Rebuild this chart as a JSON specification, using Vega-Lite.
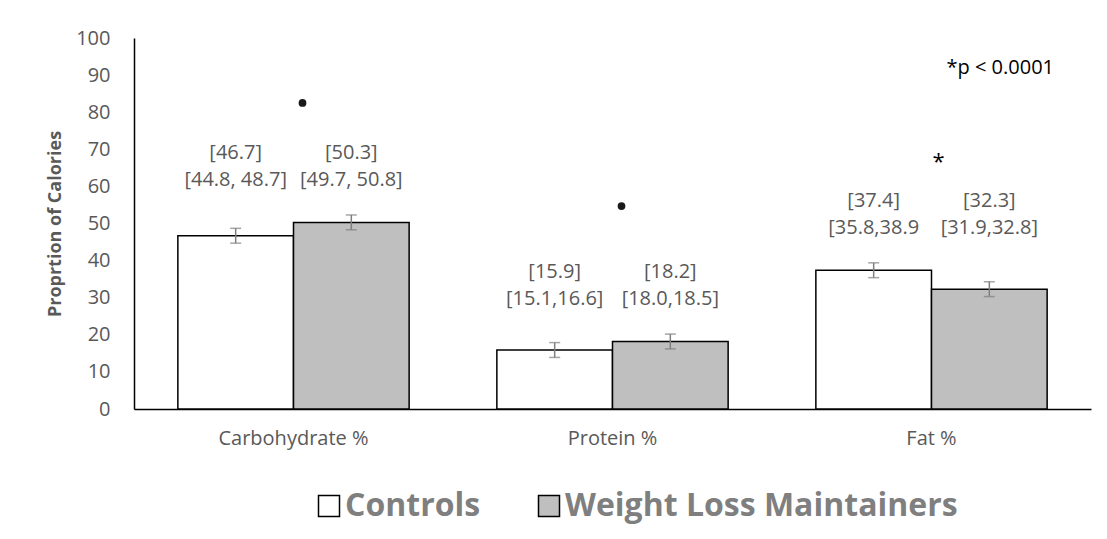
{
  "$schema": "https://vega.github.io/schema/vega-lite/v6.json",
  "width": 957,
  "height": 371,
  "autosize": {"type": "none"},
  "padding": {"left": 134, "top": 38, "right": 16, "bottom": 130},
  "background": "white",
  "config": {
    "font": "Open Sans",
    "view": {"stroke": null},
    "axis": {"grid": false, "ticks": false, "domainColor": "#000000", "domainWidth": 1.5},
    "axisY": {"values": [0, 10, 20, 30, 40, 50, 60, 70, 80, 90, 100], "labelOverlap": false, "labelFontSize": 20, "labelColor": "#595959", "labelPadding": 24,
              "titleFontSize": 18, "titleFontWeight": "bold", "titleColor": "#595959", "titlePadding": 11}
  },
  "datasets": {
    "bars": [
      {"nutrient": "Carbohydrate %", "group": "Controls", "value": 46.7, "lo": 44.7, "hi": 48.7, "l1": "[46.7]", "l2": "[44.8, 48.7]"},
      {"nutrient": "Carbohydrate %", "group": "Weight Loss Maintainers", "value": 50.3, "lo": 48.3, "hi": 52.3, "l1": "[50.3]", "l2": "[49.7, 50.8]"},
      {"nutrient": "Protein %", "group": "Controls", "value": 15.9, "lo": 13.9, "hi": 17.9, "l1": "[15.9]", "l2": "[15.1,16.6]"},
      {"nutrient": "Protein %", "group": "Weight Loss Maintainers", "value": 18.2, "lo": 16.2, "hi": 20.2, "l1": "[18.2]", "l2": "[18.0,18.5]"},
      {"nutrient": "Fat %", "group": "Controls", "value": 37.4, "lo": 35.4, "hi": 39.4, "l1": "[37.4]", "l2": "[35.8,38.9"},
      {"nutrient": "Fat %", "group": "Weight Loss Maintainers", "value": 32.3, "lo": 30.3, "hi": 34.3, "l1": "[32.3]", "l2": "[31.9,32.8]"}
    ],
    "sig": [
      {"nutrient": "Carbohydrate %", "y": 82.5, "kind": "star"},
      {"nutrient": "Protein %", "y": 54.7, "kind": "star"},
      {"nutrient": "Fat %", "y": 67.9, "kind": "asterisk"}
    ],
    "note": [
      {"nutrient": "Fat %", "y": 91.9, "text": "*p < 0.0001"}
    ]
  },
  "layer": [
    {
      "data": {"name": "bars"},
      "mark": {"type": "bar", "stroke": "#000000", "strokeWidth": 1.5},
      "encoding": {
        "x": {"field": "nutrient", "type": "nominal", "sort": ["Carbohydrate %", "Protein %", "Fat %"], "title": null,
              "scale": {"paddingInner": 0.275, "paddingOuter": 0.1375},
              "axis": {"orient": "bottom", "labelAngle": 0, "labelFontSize": 20, "labelColor": "#595959", "labelPadding": 19}},
        "xOffset": {"field": "group", "type": "nominal", "sort": ["Controls", "Weight Loss Maintainers"], "scale": {"paddingInner": 0, "paddingOuter": 0}},
        "y": {"field": "value", "type": "quantitative", "title": "Proprtion of Calories",
              "scale": {"domain": [0, 100], "nice": false},
              "axis": {"values": [0, 10, 20, 30, 40, 50, 60, 70, 80, 90, 100], "labelOverlap": false}},
        "color": {"field": "group", "type": "nominal", "sort": ["Controls", "Weight Loss Maintainers"],
                  "scale": {"domain": ["Controls", "Weight Loss Maintainers"], "range": ["#FFFFFF", "#BFBFBF"]},
                  "legend": {"orient": "none", "legendX": 179, "legendY": 452, "direction": "horizontal", "title": null,
                             "symbolType": "square", "symbolSize": 441, "symbolStrokeColor": "#000000", "symbolStrokeWidth": 1.5, "symbolOpacity": 1,
                             "labelFontSize": 32, "labelFont": "Open Sans", "labelFontWeight": "bold", "labelColor": "#7f7f7f",
                             "labelOffset": 0, "columnPadding": 52, "labelLimit": 0}}
      }
    },
    {
      "data": {"name": "bars"},
      "mark": {"type": "rule", "color": "#7f7f7f", "strokeWidth": 1.5},
      "encoding": {
        "x": {"field": "nutrient", "type": "nominal", "sort": ["Carbohydrate %", "Protein %", "Fat %"], "title": null},
        "xOffset": {"field": "group", "type": "nominal", "sort": ["Controls", "Weight Loss Maintainers"]},
        "y": {"field": "lo", "type": "quantitative", "title": "Proprtion of Calories", "axis": {"values": [0, 10, 20, 30, 40, 50, 60, 70, 80, 90, 100], "labelOverlap": false}},
        "y2": {"field": "hi"}
      }
    },
    {
      "data": {"name": "bars"},
      "mark": {"type": "tick", "color": "#7f7f7f", "thickness": 1.5, "size": 11, "orient": "horizontal"},
      "encoding": {
        "x": {"field": "nutrient", "type": "nominal", "sort": ["Carbohydrate %", "Protein %", "Fat %"], "title": null},
        "xOffset": {"field": "group", "type": "nominal", "sort": ["Controls", "Weight Loss Maintainers"]},
        "y": {"field": "hi", "type": "quantitative", "title": "Proprtion of Calories", "axis": {"values": [0, 10, 20, 30, 40, 50, 60, 70, 80, 90, 100], "labelOverlap": false}}
      }
    },
    {
      "data": {"name": "bars"},
      "mark": {"type": "tick", "color": "#7f7f7f", "thickness": 1.5, "size": 11, "orient": "horizontal"},
      "encoding": {
        "x": {"field": "nutrient", "type": "nominal", "sort": ["Carbohydrate %", "Protein %", "Fat %"], "title": null},
        "xOffset": {"field": "group", "type": "nominal", "sort": ["Controls", "Weight Loss Maintainers"]},
        "y": {"field": "lo", "type": "quantitative", "title": "Proprtion of Calories", "axis": {"values": [0, 10, 20, 30, 40, 50, 60, 70, 80, 90, 100], "labelOverlap": false}}
      }
    },
    {
      "data": {"name": "bars"},
      "transform": [{"joinaggregate": [{"op": "max", "field": "hi", "as": "gmax"}], "groupby": ["nutrient"]}],
      "mark": {"type": "text", "fontSize": 20, "color": "#595959", "baseline": "middle", "dy": -35},
      "encoding": {
        "x": {"field": "nutrient", "type": "nominal", "sort": ["Carbohydrate %", "Protein %", "Fat %"], "title": null},
        "xOffset": {"field": "group", "type": "nominal", "sort": ["Controls", "Weight Loss Maintainers"]},
        "y": {"field": "gmax", "type": "quantitative", "title": "Proprtion of Calories", "axis": {"values": [0, 10, 20, 30, 40, 50, 60, 70, 80, 90, 100], "labelOverlap": false}},
        "text": {"field": "l2"}
      }
    },
    {
      "data": {"name": "bars"},
      "transform": [{"joinaggregate": [{"op": "max", "field": "hi", "as": "gmax"}], "groupby": ["nutrient"]}],
      "mark": {"type": "text", "fontSize": 20, "color": "#595959", "baseline": "middle", "dy": -62},
      "encoding": {
        "x": {"field": "nutrient", "type": "nominal", "sort": ["Carbohydrate %", "Protein %", "Fat %"], "title": null},
        "xOffset": {"field": "group", "type": "nominal", "sort": ["Controls", "Weight Loss Maintainers"]},
        "y": {"field": "gmax", "type": "quantitative", "title": "Proprtion of Calories", "axis": {"values": [0, 10, 20, 30, 40, 50, 60, 70, 80, 90, 100], "labelOverlap": false}},
        "text": {"field": "l1"}
      }
    },
    {
      "data": {"name": "sig"},
      "transform": [{"filter": "datum.kind === 'star'"}],
      "mark": {"type": "point", "shape": "circle", "filled": true, "color": "#000000", "size": 60, "opacity": 0.9, "xOffset": 9},
      "encoding": {
        "x": {"field": "nutrient", "type": "nominal", "sort": ["Carbohydrate %", "Protein %", "Fat %"], "title": null},
        "y": {"field": "y", "type": "quantitative", "title": "Proprtion of Calories", "axis": {"values": [0, 10, 20, 30, 40, 50, 60, 70, 80, 90, 100], "labelOverlap": false}}
      }
    },
    {
      "data": {"name": "sig"},
      "transform": [{"filter": "datum.kind === 'asterisk'"}],
      "mark": {"type": "text", "text": "*", "fontSize": 22, "color": "#000000", "baseline": "middle", "dx": 7, "dy": 5},
      "encoding": {
        "x": {"field": "nutrient", "type": "nominal", "sort": ["Carbohydrate %", "Protein %", "Fat %"], "title": null},
        "y": {"field": "y", "type": "quantitative", "title": "Proprtion of Calories", "axis": {"values": [0, 10, 20, 30, 40, 50, 60, 70, 80, 90, 100], "labelOverlap": false}}
      }
    },
    {
      "data": {"name": "note"},
      "mark": {"type": "text", "fontSize": 20, "color": "#000000", "baseline": "middle", "align": "left", "dx": 15},
      "encoding": {
        "x": {"field": "nutrient", "type": "nominal", "sort": ["Carbohydrate %", "Protein %", "Fat %"], "title": null},
        "y": {"field": "y", "type": "quantitative", "title": "Proprtion of Calories", "axis": {"values": [0, 10, 20, 30, 40, 50, 60, 70, 80, 90, 100], "labelOverlap": false}},
        "text": {"field": "text"}
      }
    }
  ]
}
